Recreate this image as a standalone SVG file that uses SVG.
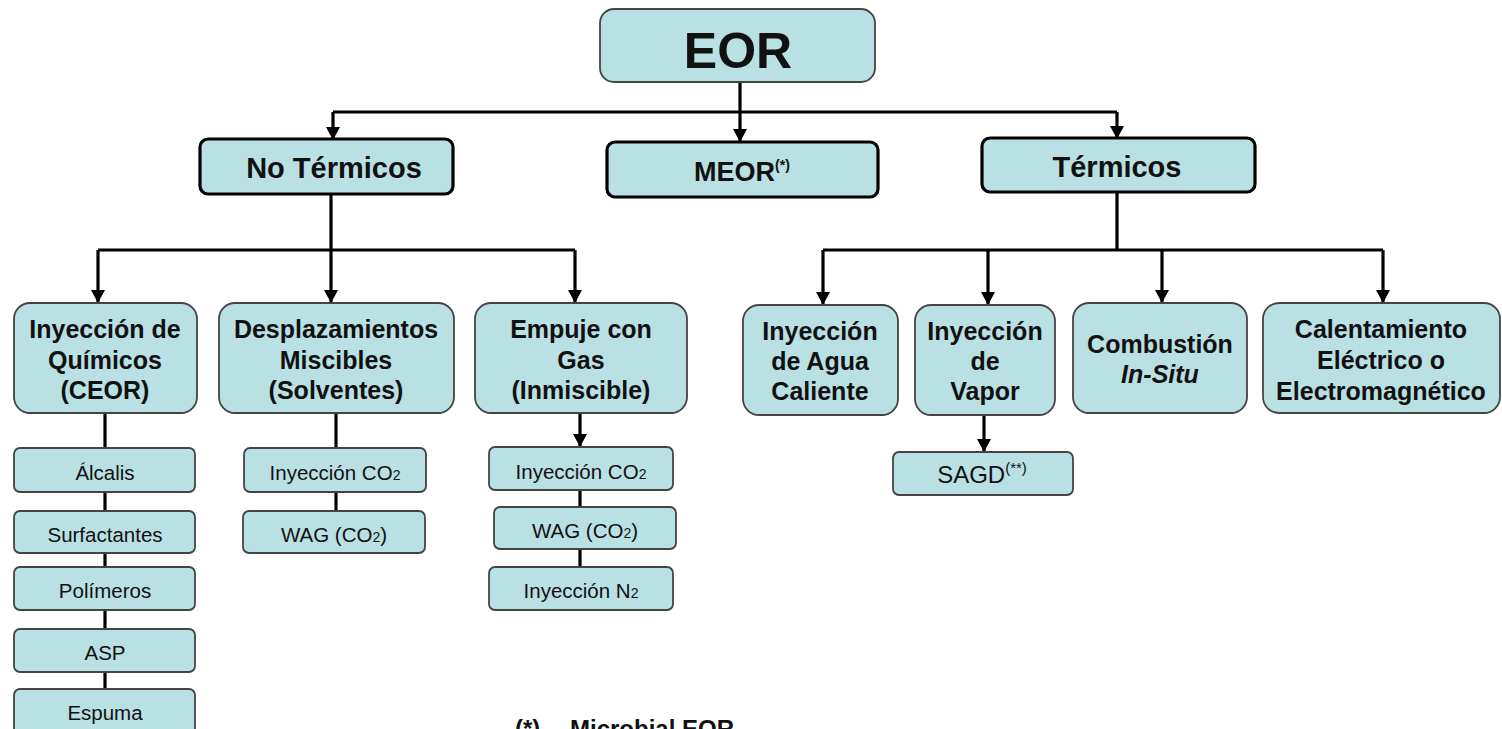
<svg xmlns="http://www.w3.org/2000/svg" width="1502" height="729" viewBox="0 0 1502 729">
<style>
text{font-family:"Liberation Sans",Arial,sans-serif;fill:#111;text-anchor:middle}
.b{font-weight:bold}
.t0{font-size:50px;font-weight:bold}
.t1{font-size:29px;font-weight:bold}
.t2{font-size:25px;font-weight:bold}
.t3{font-size:20.5px}
.sup{font-size:14px}
.sub{font-size:14px}
.root{fill:#b9e0e3;stroke:#444;stroke-width:1.8}
.l1{fill:#b9e0e3;stroke:#000;stroke-width:3.2}
.l2{fill:#b9e0e3;stroke:#444;stroke-width:1.8}
.l3{fill:#b9e0e3;stroke:#444;stroke-width:1.8}
.c{fill:none;stroke:#000;stroke-width:3.2}
.ca{fill:none;stroke:#000;stroke-width:3.2;marker-end:url(#ah)}
</style>
<defs>
<marker id="ah" markerUnits="userSpaceOnUse" markerWidth="14" markerHeight="14" refX="13" refY="7" orient="auto">
<path d="M0,0 L13,7 L0,14 z" fill="#000"/>
</marker>
</defs>
<rect width="1502" height="729" fill="#fff"/>
<g id="connectors">
<path class="c" d="M740,82 V112 M333,112 H1117"/>
<path class="ca" d="M333,112 V140"/>
<path class="ca" d="M740,112 V142"/>
<path class="ca" d="M1117,112 V139"/>
<path class="c" d="M331,193 V250 M98,250 H575"/>
<path class="ca" d="M98,250 V303"/>
<path class="ca" d="M331,250 V303"/>
<path class="ca" d="M575,250 V303"/>
<path class="c" d="M1117,192 V250 M823,250 H1383"/>
<path class="ca" d="M823,250 V305"/>
<path class="ca" d="M988,250 V305"/>
<path class="ca" d="M1162,250 V303"/>
<path class="ca" d="M1383,250 V303"/>
<path class="c" d="M105,413 V689"/>
<path class="c" d="M336,413 V511"/>
<path class="ca" d="M580,413 V447"/>
<path class="c" d="M580,490 V567"/>
<path class="ca" d="M984,415 V452"/>
</g>
<g id="eor"><rect class="root" x="600" y="9" width="275" height="73" rx="14"/><text class="t0" x="738" y="68">EOR</text></g>
<g id="no-termicos"><rect class="l1" x="200" y="139" width="253" height="55" rx="8"/><text class="t1" x="334" y="178">No Térmicos</text></g>
<g id="meor"><rect class="l1" x="607" y="142" width="271" height="55" rx="8"/><text class="t1" x="742" y="181" style="font-size:27px">MEOR<tspan class="sup" dy="-11">(*)</tspan></text></g>
<g id="termicos"><rect class="l1" x="982" y="138" width="273" height="54" rx="8"/><text class="t1" x="1117" y="177">Térmicos</text></g>

<g id="ceor"><rect class="l2" x="14" y="303" width="183" height="110" rx="16"/><text class="t2" x="105" y="338">Inyección de</text><text class="t2" x="105" y="369">Químicos</text><text class="t2" x="105" y="399">(CEOR)</text></g>
<g id="desplazamientos"><rect class="l2" x="219" y="303" width="235" height="110" rx="16"/><text class="t2" x="336" y="338">Desplazamientos</text><text class="t2" x="336" y="369">Miscibles</text><text class="t2" x="336" y="399">(Solventes)</text></g>
<g id="empuje"><rect class="l2" x="475" y="303" width="212" height="110" rx="16"/><text class="t2" x="581" y="338">Empuje con</text><text class="t2" x="581" y="369">Gas</text><text class="t2" x="581" y="399">(Inmiscible)</text></g>

<g id="agua"><rect class="l2" x="743" y="305" width="155" height="110" rx="16"/><text class="t2" x="820" y="340">Inyección</text><text class="t2" x="820" y="370">de Agua</text><text class="t2" x="820" y="400">Caliente</text></g>
<g id="vapor"><rect class="l2" x="915" y="305" width="140" height="110" rx="16"/><text class="t2" x="985" y="340">Inyección</text><text class="t2" x="985" y="370">de</text><text class="t2" x="985" y="400">Vapor</text></g>
<g id="combustion"><rect class="l2" x="1073" y="303" width="174" height="110" rx="16"/><text class="t2" x="1160" y="353">Combustión</text><text class="t2" x="1160" y="383" font-style="italic">In-Situ</text></g>
<g id="calentamiento"><rect class="l2" x="1263" y="303" width="237" height="110" rx="16"/><text class="t2" x="1381" y="338">Calentamiento</text><text class="t2" x="1381" y="369">Eléctrico o</text><text class="t2" x="1381" y="400">Electromagnético</text></g>

<g id="alcalis"><rect class="l3" x="14" y="448" width="181" height="44" rx="6"/><text class="t3" x="105" y="480">Álcalis</text></g>
<g id="surfactantes"><rect class="l3" x="14" y="511" width="181" height="42" rx="6"/><text class="t3" x="105" y="542">Surfactantes</text></g>
<g id="polimeros"><rect class="l3" x="14" y="567" width="181" height="43" rx="6"/><text class="t3" x="105" y="598">Polímeros</text></g>
<g id="asp"><rect class="l3" x="14" y="629" width="181" height="43" rx="6"/><text class="t3" x="105" y="660">ASP</text></g>
<g id="espuma"><rect class="l3" x="14" y="689" width="181" height="60" rx="6"/><text class="t3" x="105" y="720">Espuma</text></g>

<g id="iny-co2-a"><rect class="l3" x="244" y="448" width="182" height="44" rx="6"/><text class="t3" x="335" y="480">Inyección CO<tspan class="sub">2</tspan></text></g>
<g id="wag-a"><rect class="l3" x="243" y="511" width="182" height="42" rx="6"/><text class="t3" x="334" y="542">WAG (CO<tspan class="sub">2</tspan>)</text></g>

<g id="iny-co2-b"><rect class="l3" x="489" y="447" width="184" height="43" rx="6"/><text class="t3" x="581" y="479">Inyección CO<tspan class="sub">2</tspan></text></g>
<g id="wag-b"><rect class="l3" x="494" y="507" width="182" height="42" rx="6"/><text class="t3" x="585" y="538">WAG (CO<tspan class="sub">2</tspan>)</text></g>
<g id="iny-n2"><rect class="l3" x="489" y="567" width="184" height="43" rx="6"/><text class="t3" x="581" y="598">Inyección N<tspan class="sub">2</tspan></text></g>

<g id="sagd"><rect class="l3" x="893" y="452" width="180" height="43" rx="6"/><text x="982" y="483" style="font-size:24px">SAGD<tspan class="sup" style="font-size:15px" dy="-10">(**)</tspan></text></g>

<g id="footnote"><text class="b" x="515" y="737" style="font-size:24px;text-anchor:start">(*)</text><text class="b" x="570" y="737" style="font-size:24px;text-anchor:start">Microbial EOR</text></g>
</svg>
